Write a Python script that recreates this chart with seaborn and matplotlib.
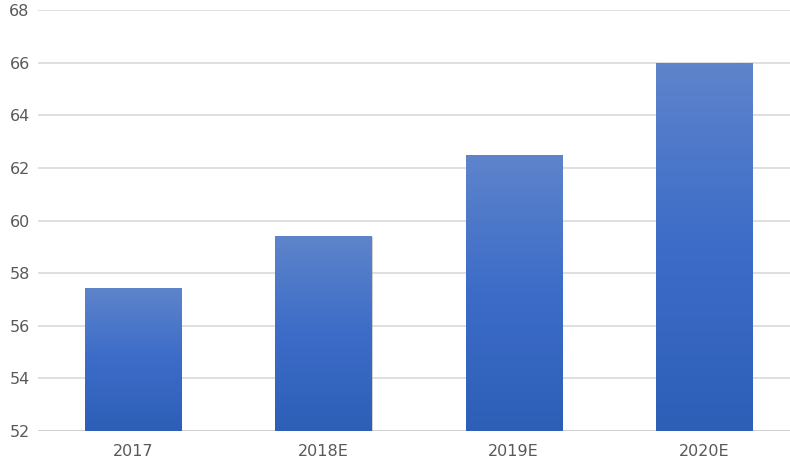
import numpy as np
import pandas as pd
import matplotlib
matplotlib.use("Agg")
import matplotlib.pyplot as plt
import matplotlib.patheffects as pe
from matplotlib.colors import LinearSegmentedColormap
import seaborn as sns

categories = ["2017", "2018E", "2019E", "2020E"]
values = [57.45, 59.4, 62.48, 65.97]
yticks = [52, 54, 56, 58, 60, 62, 64, 66, 68]

sns.set_theme(style="white")
plt.rcParams['font.family'] = ['DejaVu Sans']

df = pd.DataFrame({"year": categories, "value": values})

fig = plt.figure(figsize=(7.9, 4.65), dpi=100)
ax = fig.add_axes([38/790, 34/465, 752/790, 421/465])

sns.barplot(data=df, x="year", y="value", ax=ax, color="#4472c4", width=0.505, zorder=3)

YMIN, YMAX = 52, 68
ax.set_ylim(YMIN, YMAX)
ax.set_xlim(-0.5, 3.5 - 9/190.3)
ax.set_yticks(yticks)
ax.set_yticklabels([str(t) for t in yticks])
ax.set_xlabel("")
ax.set_ylabel("")

grad_cmap = LinearSegmentedColormap.from_list("g", ["#2e5fb7", "#3c6cc8", "#5e84cb"])
grad = np.linspace(0, 1, 256).reshape(-1, 1)
for p in list(ax.patches):
    x0, w = p.get_x(), p.get_width()
    top = p.get_y() + p.get_height()
    p.set_visible(False)
    shadow = plt.Rectangle((x0, YMIN), w, top - YMIN, facecolor="#4472c4", edgecolor="none", zorder=2,
                           path_effects=[pe.SimplePatchShadow(offset=(0.8, -0.8), shadow_rgbFace="#9a9a9a", alpha=0.45)])
    ax.add_patch(shadow)
    im = ax.imshow(grad, extent=[x0, x0 + w, YMIN, top], origin="lower", aspect="auto",
                   cmap=grad_cmap, zorder=3, interpolation="bilinear")
    clip = plt.Rectangle((x0, YMIN), w, top - YMIN, transform=ax.transData)
    im.set_clip_path(clip)
ax.set_xlim(-0.5, 3.5 - 9/190.3)
ax.set_ylim(YMIN, YMAX)

ax.yaxis.grid(True, color="#d9d9d9", linewidth=1.2, zorder=0)
ax.xaxis.grid(False)
ax.set_axisbelow(True)
ax.axhline(YMIN, color="#d0d0d0", linewidth=1.4, zorder=1)
for s in ax.spines.values():
    s.set_visible(False)
ax.tick_params(axis="both", length=0, labelsize=11.5, labelcolor="#595959")
ax.tick_params(axis="y", pad=6)
ax.tick_params(axis="x", pad=9)

fig.savefig("out.png", dpi=100)
